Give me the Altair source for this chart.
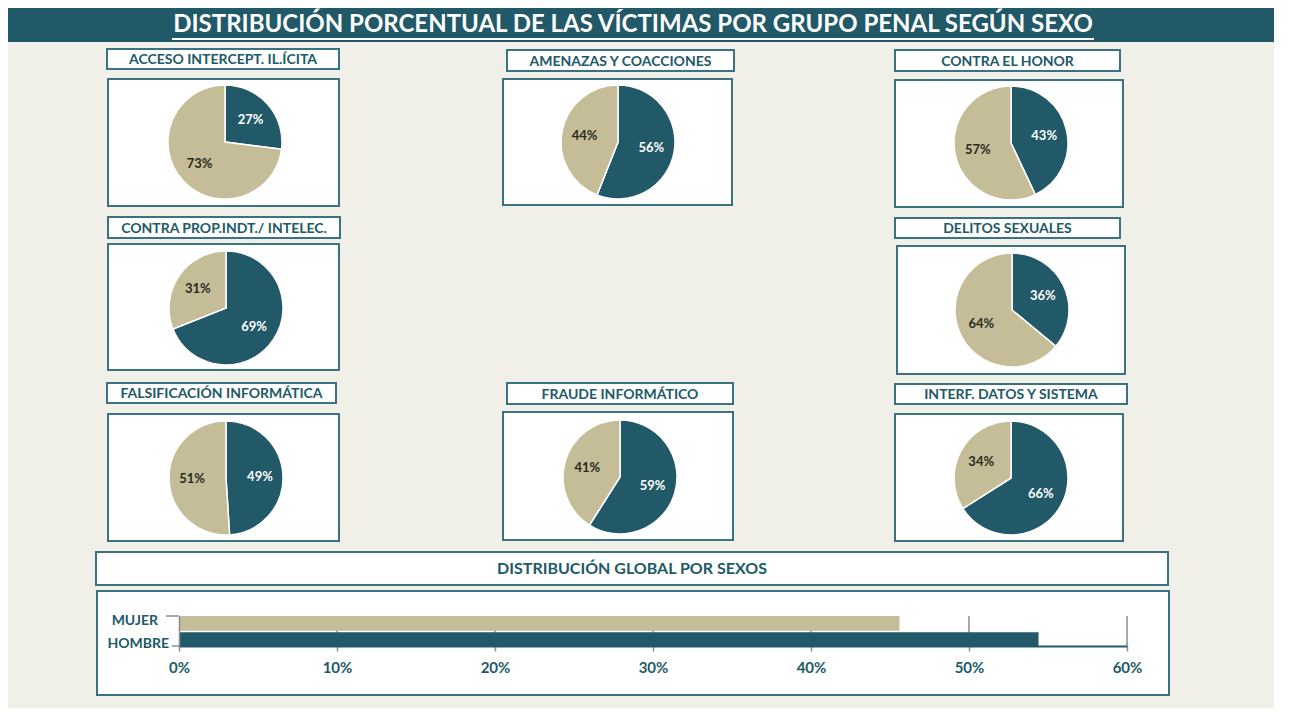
import altair as alt
import pandas as pd

# ---------------- data ----------------
grupos = ["ACCESO INTERCEPT. IL.ÍCITA", "AMENAZAS Y COACCIONES", "CONTRA EL HONOR",
          "CONTRA PROP.INDT./ INTELEC.", "DELITOS SEXUALES", "FALSIFICACIÓN INFORMÁTICA",
          "FRAUDE INFORMÁTICO", "INTERF. DATOS Y SISTEMA"]
hombre = [27, 56, 43, 69, 36, 49, 59, 66]
mujer = [73, 44, 57, 31, 64, 51, 41, 34]

sexos_global = ["MUJER", "HOMBRE"]
pct_global = [45.6, 54.4]
x_ticks = [0, 10, 20, 30, 40, 50, 60]

titulo = "DISTRIBUCIÓN PORCENTUAL DE LAS VÍCTIMAS POR GRUPO PENAL SEGÚN SEXO"
titulo_global = "DISTRIBUCIÓN GLOBAL POR SEXOS"

# ---------------- style / layout ----------------
TEAL = "#215968"
FRAME = "#3a7282"
BEIGE = "#c4bd97"
BG = "#f0f0e8"
GREY = "#8c8c8c"
FONT = "Lato"
W, H = 1274, 700


def p(v):  # page px -> plot px
    return v - 8


# (title box), (pie box), (center)
layout = [
    ((107, 49, 339, 69), (108, 79, 339, 206), (225, 142)),
    ((507, 50, 734, 71), (503, 79, 732, 205), (618, 142)),
    ((895, 50, 1120, 71), (895, 80, 1123, 207), (1011, 143)),
    ((108, 217, 340, 238), (108, 244, 339, 370), (226, 308)),
    ((895, 218, 1120, 238), (897, 246, 1125, 374), (1012, 310)),
    ((107, 383, 336, 403), (108, 414, 339, 541), (226, 478)),
    ((507, 383, 733, 404), (503, 412, 733, 540), (620, 477)),
    ((895, 384, 1127, 404), (895, 414, 1123, 541), (1011, 478)),
]
RADIUS = 57

rows = []
for g, h, m in zip(grupos, hombre, mujer):
    rows.append({"grupo": g, "sexo": "HOMBRE", "pct": h, "ord": 0, "lbl": f"{h}%"})
    rows.append({"grupo": g, "sexo": "MUJER", "pct": m, "ord": 1, "lbl": f"{m}%"})
pies = pd.DataFrame(rows)
glob = pd.DataFrame({"sexo": sexos_global, "pct": pct_global})
grid = pd.DataFrame({"pct": x_ticks[1:]})
dummy = pd.DataFrame({"d": [0]})

color_scale = alt.Scale(domain=["HOMBRE", "MUJER"], range=[TEAL, BEIGE])


def box(x0, y0, x1, y1, fill="white", stroke=FRAME, sw=2):
    return alt.Chart(dummy).mark_rect(fill=fill, stroke=stroke, strokeWidth=sw).encode(
        x=alt.value(p(x0)), x2=alt.value(p(x1)), y=alt.value(p(y0)), y2=alt.value(p(y1)))


def label(txt, cx, cy, size=13, color=TEAL, align="center"):
    return alt.Chart(dummy).mark_text(text=txt, font=FONT, fontWeight="bold", fontSize=size,
                                      color=color, align=align, baseline="middle").encode(
        x=alt.value(p(cx)), y=alt.value(p(cy)))


def hline(x0, x1, y, color=GREY, sw=1.5):
    return alt.Chart(dummy).mark_rule(color=color, strokeWidth=sw).encode(
        x=alt.value(p(x0)), x2=alt.value(p(x1)), y=alt.value(p(y)))


layers = []
# background + header
layers.append(alt.Chart(dummy).mark_rect(fill=BG).encode(
    x=alt.value(0), x2=alt.value(p(1274)), y=alt.value(p(42)), y2=alt.value(p(710))))
layers.append(alt.Chart(dummy).mark_rect(fill=TEAL).encode(
    x=alt.value(0), x2=alt.value(p(1274)), y=alt.value(0), y2=alt.value(p(42))))
layers.append(label(titulo, 633, 25, size=24, color="white"))
layers.append(hline(172, 1094, 39, color="white", sw=2))

# pies
for g, (tb, pb, c) in zip(grupos, layout):
    layers.append(box(*tb))
    layers.append(label(g, (tb[0] + tb[2]) / 2, (tb[1] + tb[3]) / 2 + 1, size=14))
    layers.append(box(*pb))
    base = alt.Chart(pies).transform_filter(alt.datum.grupo == g)
    layers.append(base.mark_arc(outerRadius=RADIUS, stroke="white", strokeWidth=1.5).encode(
        theta=alt.Theta("pct:Q", stack=True),
        color=alt.Color("sexo:N", scale=color_scale, legend=None),
        order=alt.Order("ord:Q"),
        x=alt.value(p(c[0])), y=alt.value(p(c[1]))))
    layers.append(base.mark_text(font=FONT, fontWeight="bold", fontSize=13, radius=34,
                                 align="center", baseline="middle").encode(
        theta=alt.Theta("pct:Q", stack=True),
        order=alt.Order("ord:Q"),
        text=alt.Text("lbl:N"),
        color=alt.condition("datum.sexo == 'HOMBRE'", alt.value("white"), alt.value("#2b2b1e")),
        x=alt.value(p(c[0])), y=alt.value(p(c[1]))))

# bottom section
layers.append(box(96, 552, 1168, 585))
layers.append(label(titulo_global, 632, 569, size=16))
layers.append(box(97, 591, 1169, 695))

xscale = alt.Scale(domain=[0, 60], range=[p(179), p(1127)])
yscale = alt.Scale(range=[p(616), p(647)], paddingInner=0.1, paddingOuter=0)
xaxis = alt.Axis(title=None, values=x_ticks, labelExpr="datum.value + '%'",
                 labelFont=FONT, labelFontWeight="bold", labelFontSize=15,
                 labelColor=TEAL, domainColor=TEAL, domainWidth=2,
                 tickColor=GREY, tickWidth=1.5, tickSize=5, grid=False,
                 labelFlush=False, labelOverlap=False,
                 labelPadding=9, offset=-62, zindex=2)
yaxis = alt.Axis(title=None, labels=False, ticks=False, domainColor=GREY, domainWidth=1.5,
                 offset=-171, grid=False, zindex=2)

layers.append(alt.Chart(grid).mark_rule(color=GREY, strokeWidth=1.5).encode(
    x=alt.X("pct:Q", scale=xscale, axis=xaxis),
    y=alt.value(p(616)), y2=alt.value(p(646))))

layers.append(alt.Chart(glob).mark_bar().encode(
    x=alt.X("pct:Q", scale=xscale, axis=xaxis),
    y=alt.Y("sexo:N", sort=sexos_global, scale=yscale, axis=yaxis),
    color=alt.Color("sexo:N", scale=color_scale, legend=None)))

# category labels and axis bracket ends
layers.append(alt.Chart(glob).transform_filter(alt.datum.sexo == "MUJER").mark_text(
    font=FONT, fontWeight="bold", fontSize=14, color=TEAL, align="right", baseline="middle").encode(
    y=alt.Y("sexo:N", sort=sexos_global, scale=yscale, axis=yaxis),
    yOffset=alt.value(5), x=alt.value(p(158)), text="sexo:N"))
layers.append(alt.Chart(glob).transform_filter(alt.datum.sexo == "HOMBRE").mark_text(
    font=FONT, fontWeight="bold", fontSize=14, color=TEAL, align="right", baseline="middle").encode(
    y=alt.Y("sexo:N", sort=sexos_global, scale=yscale, axis=yaxis),
    yOffset=alt.value(12), x=alt.value(p(169)), text="sexo:N"))
layers.append(hline(166, 179, 616))
layers.append(hline(172, 179, 646))

chart = alt.layer(*layers).properties(
    width=W, height=H, padding=0, background="white",
    autosize=alt.AutoSizeParams(type="none")
).configure_view(strokeWidth=0)

chart.save("out.html", embed_options={"renderer": "svg", "actions": False})
